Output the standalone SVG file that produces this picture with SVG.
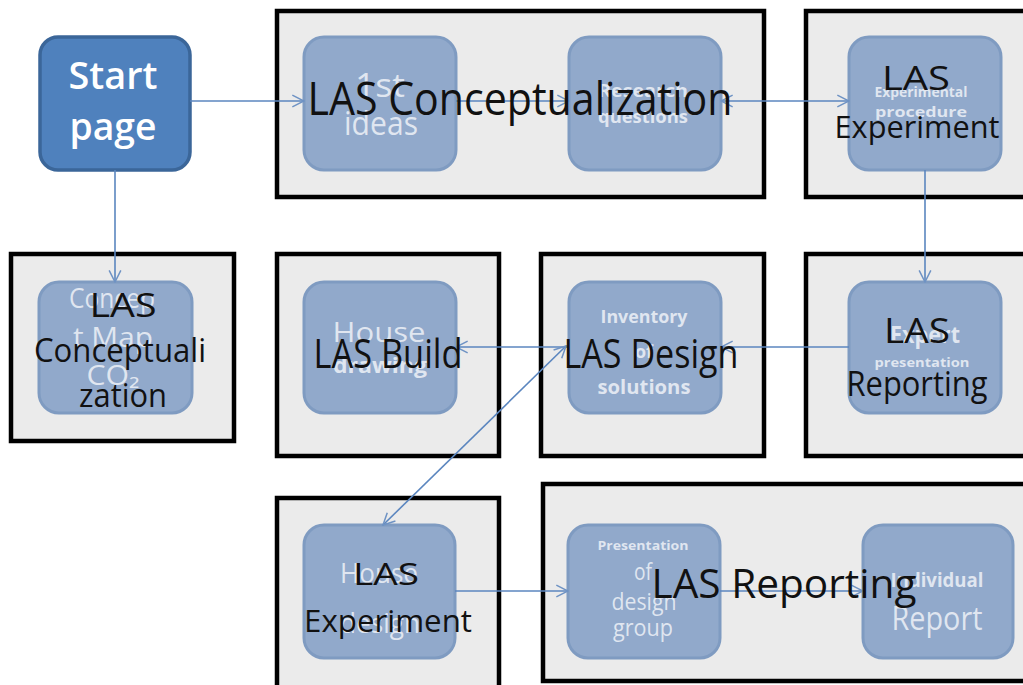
<svg xmlns="http://www.w3.org/2000/svg" width="1023" height="685" viewBox="0 0 1023 685">
  <style>
    .frame { fill: #ebebeb; stroke: #000; stroke-width: 4.5; }
    .step { fill: #91a9cb; stroke: #7f9bc1; stroke-width: 3; }
    .start { fill: #4f81bd; stroke: #3b6699; stroke-width: 3.5; }
    .inner { font-family: "Open Sans", "Liberation Sans", sans-serif; fill: #ffffff; fill-opacity: 0.72; text-anchor: middle; }
    .b { font-weight: bold; }
    .label { font-family: "Open Sans", "Liberation Sans", sans-serif; fill: #111; text-anchor: middle; }
    .conn { stroke: #5b86bf; stroke-width: 1.6; fill: none; }
  </style>
  <defs>
    <marker id="arr" viewBox="0 0 12 12" refX="11" refY="6" markerWidth="14" markerHeight="14" markerUnits="userSpaceOnUse" orient="auto-start-reverse">
      <path d="M1,1 L11,6 L1,11" fill="none" stroke="#6f93c4" stroke-width="1.3"/>
    </marker>
  </defs>

  <rect width="1023" height="685" fill="#ffffff"/>

  <!-- stage frames -->
  <g id="frame-conceptualization"><rect class="frame" x="277" y="11" width="487" height="186"/></g>
  <g id="frame-experiment-top"><rect class="frame" x="806" y="11" width="230" height="186"/></g>
  <g id="frame-conceptualization-small"><rect class="frame" x="11" y="254" width="223" height="187"/></g>
  <g id="frame-build"><rect class="frame" x="277" y="254" width="222" height="202"/></g>
  <g id="frame-design"><rect class="frame" x="541" y="254" width="223" height="202"/></g>
  <g id="frame-reporting-mid"><rect class="frame" x="806" y="254" width="230" height="202"/></g>
  <g id="frame-experiment-bottom"><rect class="frame" x="277" y="498" width="222" height="200"/></g>
  <g id="frame-reporting-bottom"><rect class="frame" x="543" y="484" width="493" height="197"/></g>

  <!-- start node -->
  <g id="start-page">
    <rect class="start" x="40" y="37" width="150" height="133" rx="18"/>
    <text class="inner" style="fill-opacity:1;font-weight:600" font-size="38" x="113" y="89" textLength="89" lengthAdjust="spacingAndGlyphs">Start</text>
    <text class="inner" style="fill-opacity:1;font-weight:600" font-size="38" x="113" y="140" textLength="87" lengthAdjust="spacingAndGlyphs">page</text>
  </g>

  <!-- step nodes -->
  <g id="first-ideas">
    <rect class="step" x="304" y="37" width="152" height="133" rx="20"/>
    <text class="inner" font-size="32" x="380" y="97" textLength="50" lengthAdjust="spacingAndGlyphs">1st</text>
    <text class="inner" font-size="32" x="381" y="135" textLength="74" lengthAdjust="spacingAndGlyphs">ideas</text>
  </g>
  <g id="research-questions">
    <rect class="step" x="569" y="37" width="152" height="133" rx="20"/>
    <text class="inner b" font-size="18" x="643" y="97" textLength="90" lengthAdjust="spacingAndGlyphs">Research</text>
    <text class="inner b" font-size="18" x="643" y="123" textLength="90" lengthAdjust="spacingAndGlyphs">questions</text>
  </g>
  <g id="experimental-procedure">
    <rect class="step" x="849" y="37" width="152" height="133" rx="20"/>
    <text class="inner b" font-size="14" x="921" y="97" textLength="93" lengthAdjust="spacingAndGlyphs">Experimental</text>
    <text class="inner b" font-size="15" x="921" y="117" textLength="92" lengthAdjust="spacingAndGlyphs">procedure</text>
  </g>
  <g id="concept-map">
    <rect class="step" x="39" y="282" width="153" height="131" rx="20"/>
    <text class="inner" font-size="27" x="112" y="308" textLength="86" lengthAdjust="spacingAndGlyphs">Concep</text>
    <text class="inner" font-size="27" x="113" y="347" textLength="80" lengthAdjust="spacingAndGlyphs">t Map</text>
    <text class="inner" font-size="27" x="113" y="385" textLength="53" lengthAdjust="spacingAndGlyphs">CO₂</text>
  </g>
  <g id="house-drawing">
    <rect class="step" x="304" y="282" width="152" height="131" rx="20"/>
    <text class="inner" font-size="28" x="379" y="342" textLength="93" lengthAdjust="spacingAndGlyphs">House</text>
    <text class="inner b" font-size="22" x="380" y="373" textLength="94" lengthAdjust="spacingAndGlyphs">drawing</text>
  </g>
  <g id="inventory-solutions">
    <rect class="step" x="569" y="282" width="152" height="131" rx="20"/>
    <text class="inner b" font-size="18" x="644" y="323" textLength="87" lengthAdjust="spacingAndGlyphs">Inventory</text>
    <text class="inner b" font-size="18" x="644" y="358">of</text>
    <text class="inner b" font-size="20" x="644" y="394" textLength="93" lengthAdjust="spacingAndGlyphs">solutions</text>
  </g>
  <g id="expert-presentation">
    <rect class="step" x="849" y="282" width="152" height="131" rx="20"/>
    <text class="inner b" font-size="24" x="925" y="343" textLength="70" lengthAdjust="spacingAndGlyphs">Expert</text>
    <text class="inner b" font-size="13" x="922" y="367" textLength="95" lengthAdjust="spacingAndGlyphs">presentation</text>
  </g>
  <g id="house-design">
    <rect class="step" x="304" y="525" width="151" height="133" rx="20"/>
    <text class="inner" font-size="28" x="379" y="583" textLength="78" lengthAdjust="spacingAndGlyphs">House</text>
    <text class="inner" font-size="28" x="380" y="633" textLength="80" lengthAdjust="spacingAndGlyphs">design</text>
  </g>
  <g id="presentation-design-group">
    <rect class="step" x="568" y="525" width="152" height="133" rx="20"/>
    <text class="inner b" font-size="13" x="643" y="550" textLength="91" lengthAdjust="spacingAndGlyphs">Presentation</text>
    <text class="inner" font-size="24" x="643" y="580" textLength="18" lengthAdjust="spacingAndGlyphs">of</text>
    <text class="inner" font-size="24" x="644" y="610" textLength="65" lengthAdjust="spacingAndGlyphs">design</text>
    <text class="inner" font-size="24" x="643" y="636" textLength="60" lengthAdjust="spacingAndGlyphs">group</text>
  </g>
  <g id="individual-report">
    <rect class="step" x="863" y="525" width="150" height="133" rx="20"/>
    <text class="inner b" font-size="19" x="937" y="587" textLength="93" lengthAdjust="spacingAndGlyphs">Individual</text>
    <text class="inner" font-size="32" x="937" y="630" textLength="91" lengthAdjust="spacingAndGlyphs">Report</text>
  </g>

  <!-- connectors -->
  <g id="connectors">
    <line class="conn" x1="190" y1="101" x2="304" y2="101" marker-end="url(#arr)"/>
    <line class="conn" x1="456" y1="101" x2="569" y2="101" marker-end="url(#arr)"/>
    <line class="conn" x1="721" y1="101" x2="849" y2="101" marker-start="url(#arr)" marker-end="url(#arr)"/>
    <line class="conn" x1="925" y1="170" x2="925" y2="282" marker-end="url(#arr)"/>
    <line class="conn" x1="849" y1="347" x2="721" y2="347" marker-end="url(#arr)"/>
    <line class="conn" x1="569" y1="347" x2="456" y2="347" marker-end="url(#arr)"/>
    <line class="conn" x1="566" y1="346" x2="383" y2="525" marker-start="url(#arr)" marker-end="url(#arr)"/>
    <line class="conn" x1="115" y1="170" x2="115" y2="282" marker-end="url(#arr)"/>
    <line class="conn" x1="455" y1="591" x2="568" y2="591" marker-end="url(#arr)"/>
    <line class="conn" x1="720" y1="591" x2="863" y2="591" marker-end="url(#arr)"/>
  </g>

  <!-- stage titles -->
  <g id="stage-titles">
    <text class="label" font-size="46" x="520" y="115" textLength="425" lengthAdjust="spacingAndGlyphs">LAS Conceptualization</text>
    <text class="label" font-size="32" x="916" y="90" textLength="68" lengthAdjust="spacingAndGlyphs">LAS</text>
    <text class="label" font-size="31" x="917" y="138" textLength="165" lengthAdjust="spacingAndGlyphs">Experiment</text>
    <text class="label" font-size="33" x="123" y="317" textLength="67" lengthAdjust="spacingAndGlyphs">LAS</text>
    <text class="label" font-size="33" x="120" y="362" textLength="172" lengthAdjust="spacingAndGlyphs">Conceptuali</text>
    <text class="label" font-size="33" x="123" y="407" textLength="88" lengthAdjust="spacingAndGlyphs">zation</text>
    <text class="label" font-size="40" x="388" y="368" textLength="149" lengthAdjust="spacingAndGlyphs">LAS Build</text>
    <text class="label" font-size="40" x="651" y="368" textLength="175" lengthAdjust="spacingAndGlyphs">LAS Design</text>
    <text class="label" font-size="34" x="917" y="343" textLength="66" lengthAdjust="spacingAndGlyphs">LAS</text>
    <text class="label" font-size="34" x="917" y="396" textLength="141" lengthAdjust="spacingAndGlyphs">Reporting</text>
    <text class="label" font-size="31" x="386" y="585" textLength="66" lengthAdjust="spacingAndGlyphs">LAS</text>
    <text class="label" font-size="31" x="388" y="632" textLength="168" lengthAdjust="spacingAndGlyphs">Experiment</text>
    <text class="label" font-size="40" x="784" y="598" textLength="265" lengthAdjust="spacingAndGlyphs">LAS Reporting</text>
  </g>
</svg>
